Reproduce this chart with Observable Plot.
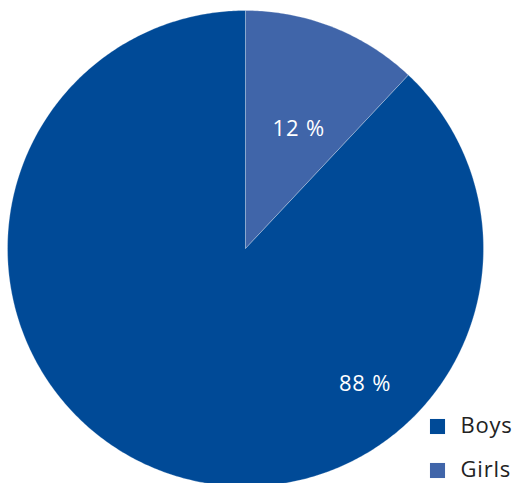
<!DOCTYPE html>
<html><head><meta charset="utf-8">
<script src="https://cdn.jsdelivr.net/npm/d3@7"></script>
<script src="https://cdn.jsdelivr.net/npm/@observablehq/plot@0.6"></script>
<style>body{margin:0;background:#fff}</style>
</head><body><div id="chart"></div>
<script>
const categories = ["Girls", "Boys"];
const shares = [12, 88];
const colors = ["#4065a9", "#004a97"];
const labels = ["12 %", "88 %"];

// layout
const W = 512, H = 483, cx = 245, cy = 248, R = 238;
const labelRad = [0.55, 0.76];
const labelAng = [24, 138.6].map(d => d * Math.PI / 180);

const pie = d3.pie().sort(null).value(d => d.share)(categories.map((c, i) => ({cat: c, share: shares[i], i})));
const polys = [];
pie.forEach(s => {
  const n = Math.max(4, Math.ceil((s.endAngle - s.startAngle) / 0.01));
  polys.push({cat: s.data.cat, x: cx, y: cy});
  for (let k = 0; k <= n; k++) {
    const a = s.startAngle + (s.endAngle - s.startAngle) * k / n;
    polys.push({cat: s.data.cat, x: cx + R * Math.sin(a), y: cy - R * Math.cos(a)});
  }
  polys.push({cat: s.data.cat, x: cx, y: cy});
});
const labelData = pie.map((s, i) => ({
  text: labels[i],
  x: cx + R * labelRad[i] * Math.sin(labelAng[i]),
  y: cy - R * labelRad[i] * Math.cos(labelAng[i])
}));
const legend = categories.map((c, i) => ({cat: c})).reverse();

const chart = Plot.plot({
  width: W, height: H,
  margin: 0,
  x: {domain: [0, W], range: [0, W], axis: null},
  y: {domain: [0, H], range: [0, H], axis: null},
  color: {domain: categories, range: colors},
  style: {fontFamily: "'Open Sans', sans-serif"},
  marks: [
    Plot.line(polys, {x: "x", y: "y", z: "cat", fill: "cat", stroke: "#ffffff", strokeOpacity: 0.35, strokeWidth: 0.8, curve: "linear"}),
    Plot.text(labelData, {x: "x", y: "y", text: "text", fill: "white", fontSize: 22, style: "letter-spacing:0.8px"}),
    Plot.dot(legend, {x: () => 437, y: (d, i) => 426 + i * 44, symbol: "square", r: 8.5, fill: "cat", stroke: null}),
    Plot.text(legend, {x: () => 460, y: (d, i) => 425 + i * 44, text: "cat", textAnchor: "start", fontSize: 22, fill: "#222"})
  ]
});
chart.querySelectorAll("text").forEach(t => t.style.letterSpacing = "0.8px");
document.getElementById("chart").append(chart);
</script></body></html>
